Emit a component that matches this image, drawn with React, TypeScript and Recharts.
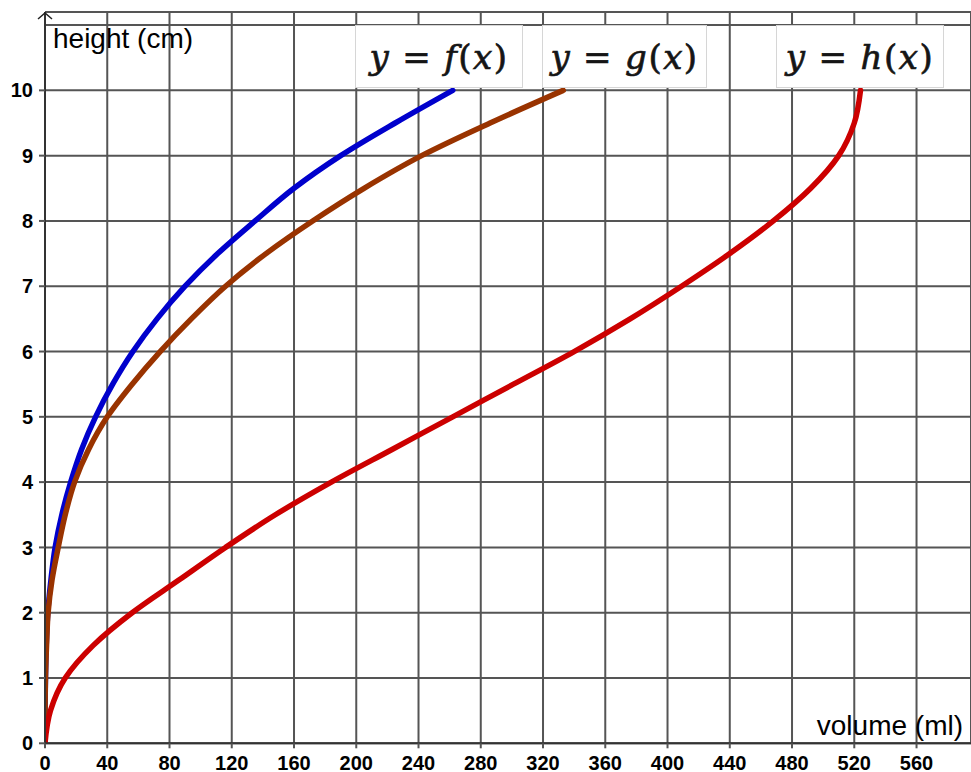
import React from 'react'
import {
  LineChart,
  Line,
  XAxis,
  YAxis,
  CartesianGrid,
  ReferenceLine,
  Legend,
} from 'recharts'

const heights = [0, 0.5, 1, 1.5, 2, 2.5, 3, 3.5, 4, 4.5, 5, 5.5, 6, 6.5, 7, 7.5, 8, 8.5, 9, 9.5, 10]

// volume (ml) at each height
const fVolume = [0, 0.05, 0.3, 0.8, 1.8, 3.8, 6.5, 10.8, 16.5, 23.5, 32.5, 43.5, 56.5, 72, 90, 111, 135, 160, 190, 225, 262]
const gVolume = [0, 0.05, 0.3, 1, 2, 4.5, 8.5, 13, 19, 28, 40, 56, 74, 94, 116, 142, 172, 205, 242, 286, 333]
const hVolume = [0, 3.5, 13, 31, 56, 86, 116, 148, 184, 223, 262, 301, 340, 376, 409, 440, 468, 492, 510, 520, 524]

const volumeTicks = [0, 40, 80, 120, 160, 200, 240, 280, 320, 360, 400, 440, 480, 520, 560]
const heightTicks = [0, 1, 2, 3, 4, 5, 6, 7, 8, 9, 10]

const data = heights.map((height, i) => ({
  height,
  f: fVolume[i],
  g: gVolume[i],
  h: hVolume[i],
}))

const GRID = '#555'
const AXIS = '#333'
const SANS = '"Liberation Sans", Arial, sans-serif'

// where the formula boxes sit (pixels inside the chart)
const LEGEND_BOXES = [
  { left: 355, width: 168 },
  { left: 542, width: 165 },
  { left: 776, width: 168 },
]

const FormulaLegend = ({ payload }: any) => (
  <div style={{ position: 'relative', height: 0 }}>
    {(payload || []).map((entry: any, i: number) => {
      const box = LEGEND_BOXES[i] || LEGEND_BOXES[0]
      return (
        <div
          key={entry.value}
          style={{
            position: 'absolute',
            left: box.left,
            top: 25,
            width: box.width,
            height: 63,
            boxSizing: 'border-box',
            background: '#fff',
            border: '1px solid #d6d6d6',
            display: 'flex',
            alignItems: 'center',
            justifyContent: 'center',
            fontFamily: '"DejaVu Serif", "Liberation Serif", serif',
            fontSize: 34,
            color: '#151515',
            WebkitTextStroke: '0.7px #151515',
            whiteSpace: 'nowrap',
            letterSpacing: 1.5,
          }}
        >
          <i>y</i>
          <span style={{ margin: '0 12px' }}>=</span>
          <i>{entry.value}</i>
          <span>(</span>
          <i>x</i>
          <span>)</span>
        </div>
      )
    })}
  </div>
)

const HeightTitle = (props: any) => {
  const { x, y, width } = props.viewBox
  const ax = x + width
  return (
    <g>
      <path
        d={`M${ax - 7},${y + 7} L${ax},${y + 1} L${ax + 7},${y + 7}`}
        stroke="#222"
        strokeWidth={1.5}
        fill="none"
      />
      <text x={ax + 8} y={y + 36} fontFamily={SANS} fontSize={28} fill="#000">
        height (cm)
      </text>
    </g>
  )
}

const VolumeTitle = (props: any) => {
  const { x, y, width } = props.viewBox
  return (
    <text x={x + width - 8} y={y - 8} textAnchor="end" fontFamily={SANS} fontSize={28} fill="#000">
      volume (ml)
    </text>
  )
}

const tickStyle = { fill: '#000', fontSize: 20, fontWeight: 'bold', fontFamily: SANS }

export default function App() {
  return (
    <div style={{ position: 'absolute', left: 0, top: 0, background: '#fff' }}>
      <LineChart
        width={971}
        height={772}
        data={data}
        layout="vertical"
        margin={{ top: 12, right: 0, bottom: 0, left: 0 }}
      >
        <CartesianGrid stroke={GRID} strokeWidth={2} />
        <ReferenceLine y={11} stroke={GRID} strokeWidth={2} />

        <XAxis
          type="number"
          domain={[0, 595]}
          ticks={volumeTicks}
          interval={0}
          allowDataOverflow
          height={28.7}
          tickSize={5}
          tickMargin={7}
          axisLine={{ stroke: AXIS, strokeWidth: 2 }}
          tickLine={{ stroke: GRID, strokeWidth: 2 }}
          tick={tickStyle}
          label={{ content: VolumeTitle }}
        />

        <YAxis
          type="number"
          dataKey="height"
          domain={[0, 11.2]}
          reversed
          ticks={heightTicks}
          interval={0}
          allowDataOverflow
          width={45}
          tickSize={6}
          tickMargin={6}
          axisLine={{ stroke: AXIS, strokeWidth: 2 }}
          tickLine={{ stroke: GRID, strokeWidth: 2 }}
          tick={tickStyle}
          label={{ content: HeightTitle }}
        />

        <Legend
          layout="horizontal"
          verticalAlign="middle"
          align="center"
          content={<FormulaLegend />}
          wrapperStyle={{ top: 0, left: 0, width: 971, height: 0 }}
        />

        <Line
          type="monotone"
          dataKey="f"
          name="f"
          stroke="#0000cc"
          strokeWidth={5.5}
          strokeLinecap="round"
          dot={false}
          isAnimationActive={false}
        />
        <Line
          type="monotone"
          dataKey="g"
          name="g"
          stroke="#993300"
          strokeWidth={5.5}
          strokeLinecap="round"
          dot={false}
          isAnimationActive={false}
        />
        <Line
          type="monotone"
          dataKey="h"
          name="h"
          stroke="#cc0000"
          strokeWidth={5.5}
          strokeLinecap="round"
          dot={false}
          isAnimationActive={false}
        />
      </LineChart>
    </div>
  )
}
